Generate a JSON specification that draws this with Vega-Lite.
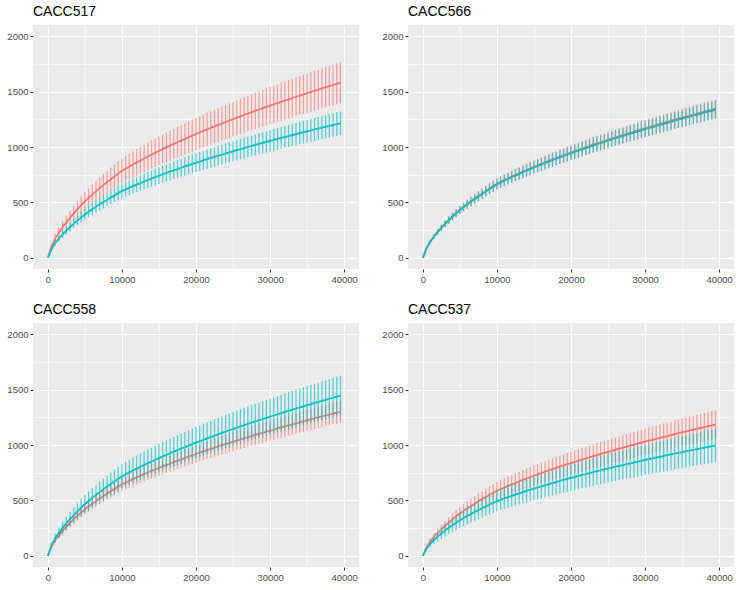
{
"$schema":"https://vega.github.io/schema/vega-lite/v6.json",
"background":"white",
"padding":{"left":6,"top":5,"right":4,"bottom":4},
"datasets":{"curves":[
{"s":"CACC517","g":"a","x":0,"y":0,"e":0},{"s":"CACC517","g":"a","x":500,"y":103,"e":27},{"s":"CACC517","g":"a","x":1000,"y":174,"e":39},{"s":"CACC517","g":"a","x":1500,"y":228,"e":48},{"s":"CACC517","g":"a","x":2000,"y":276,"e":55},{"s":"CACC517","g":"a","x":2500,"y":321,"e":61},{"s":"CACC517","g":"a","x":3000,"y":362,"e":66},{"s":"CACC517","g":"a","x":3500,"y":402,"e":71},{"s":"CACC517","g":"a","x":4000,"y":439,"e":76},{"s":"CACC517","g":"a","x":4500,"y":475,"e":80},
{"s":"CACC517","g":"a","x":5000,"y":510,"e":84},{"s":"CACC517","g":"a","x":5500,"y":541,"e":87},{"s":"CACC517","g":"a","x":6000,"y":571,"e":91},{"s":"CACC517","g":"a","x":6500,"y":600,"e":94},{"s":"CACC517","g":"a","x":7000,"y":629,"e":97},{"s":"CACC517","g":"a","x":7500,"y":656,"e":100},{"s":"CACC517","g":"a","x":8000,"y":683,"e":103},{"s":"CACC517","g":"a","x":8500,"y":709,"e":106},{"s":"CACC517","g":"a","x":9000,"y":735,"e":108},{"s":"CACC517","g":"a","x":9500,"y":760,"e":111},
{"s":"CACC517","g":"a","x":10000,"y":784,"e":113},{"s":"CACC517","g":"a","x":10500,"y":804,"e":115},{"s":"CACC517","g":"a","x":11000,"y":823,"e":117},{"s":"CACC517","g":"a","x":11500,"y":842,"e":119},{"s":"CACC517","g":"a","x":12000,"y":861,"e":121},{"s":"CACC517","g":"a","x":12500,"y":879,"e":123},{"s":"CACC517","g":"a","x":13000,"y":896,"e":124},{"s":"CACC517","g":"a","x":13500,"y":914,"e":126},{"s":"CACC517","g":"a","x":14000,"y":931,"e":128},{"s":"CACC517","g":"a","x":14500,"y":948,"e":129},
{"s":"CACC517","g":"a","x":15000,"y":964,"e":131},{"s":"CACC517","g":"a","x":15500,"y":981,"e":132},{"s":"CACC517","g":"a","x":16000,"y":997,"e":134},{"s":"CACC517","g":"a","x":16500,"y":1012,"e":135},{"s":"CACC517","g":"a","x":17000,"y":1028,"e":137},{"s":"CACC517","g":"a","x":17500,"y":1043,"e":138},{"s":"CACC517","g":"a","x":18000,"y":1058,"e":140},{"s":"CACC517","g":"a","x":18500,"y":1073,"e":141},{"s":"CACC517","g":"a","x":19000,"y":1088,"e":142},{"s":"CACC517","g":"a","x":19500,"y":1102,"e":144},
{"s":"CACC517","g":"a","x":20000,"y":1117,"e":145},{"s":"CACC517","g":"a","x":20500,"y":1131,"e":146},{"s":"CACC517","g":"a","x":21000,"y":1145,"e":148},{"s":"CACC517","g":"a","x":21500,"y":1159,"e":149},{"s":"CACC517","g":"a","x":22000,"y":1172,"e":150},{"s":"CACC517","g":"a","x":22500,"y":1186,"e":151},{"s":"CACC517","g":"a","x":23000,"y":1199,"e":153},{"s":"CACC517","g":"a","x":23500,"y":1212,"e":154},{"s":"CACC517","g":"a","x":24000,"y":1225,"e":155},{"s":"CACC517","g":"a","x":24500,"y":1238,"e":156},
{"s":"CACC517","g":"a","x":25000,"y":1251,"e":157},{"s":"CACC517","g":"a","x":25500,"y":1264,"e":158},{"s":"CACC517","g":"a","x":26000,"y":1276,"e":159},{"s":"CACC517","g":"a","x":26500,"y":1289,"e":160},{"s":"CACC517","g":"a","x":27000,"y":1301,"e":161},{"s":"CACC517","g":"a","x":27500,"y":1314,"e":163},{"s":"CACC517","g":"a","x":28000,"y":1326,"e":164},{"s":"CACC517","g":"a","x":28500,"y":1338,"e":165},{"s":"CACC517","g":"a","x":29000,"y":1350,"e":166},{"s":"CACC517","g":"a","x":29500,"y":1361,"e":167},
{"s":"CACC517","g":"a","x":30000,"y":1373,"e":168},{"s":"CACC517","g":"a","x":30500,"y":1385,"e":169},{"s":"CACC517","g":"a","x":31000,"y":1396,"e":170},{"s":"CACC517","g":"a","x":31500,"y":1408,"e":171},{"s":"CACC517","g":"a","x":32000,"y":1419,"e":172},{"s":"CACC517","g":"a","x":32500,"y":1430,"e":173},{"s":"CACC517","g":"a","x":33000,"y":1442,"e":173},{"s":"CACC517","g":"a","x":33500,"y":1453,"e":174},{"s":"CACC517","g":"a","x":34000,"y":1464,"e":175},{"s":"CACC517","g":"a","x":34500,"y":1475,"e":176},
{"s":"CACC517","g":"a","x":35000,"y":1486,"e":177},{"s":"CACC517","g":"a","x":35500,"y":1496,"e":178},{"s":"CACC517","g":"a","x":36000,"y":1507,"e":179},{"s":"CACC517","g":"a","x":36500,"y":1518,"e":180},{"s":"CACC517","g":"a","x":37000,"y":1528,"e":181},{"s":"CACC517","g":"a","x":37500,"y":1539,"e":182},{"s":"CACC517","g":"a","x":38000,"y":1549,"e":182},{"s":"CACC517","g":"a","x":38500,"y":1559,"e":183},{"s":"CACC517","g":"a","x":39000,"y":1570,"e":184},{"s":"CACC517","g":"a","x":39500,"y":1580,"e":185},
{"s":"CACC517","g":"b","x":0,"y":0,"e":0},{"s":"CACC517","g":"b","x":500,"y":79,"e":16},{"s":"CACC517","g":"b","x":1000,"y":133,"e":23},{"s":"CACC517","g":"b","x":1500,"y":175,"e":28},{"s":"CACC517","g":"b","x":2000,"y":212,"e":32},{"s":"CACC517","g":"b","x":2500,"y":246,"e":35},{"s":"CACC517","g":"b","x":3000,"y":278,"e":38},{"s":"CACC517","g":"b","x":3500,"y":309,"e":41},{"s":"CACC517","g":"b","x":4000,"y":337,"e":44},{"s":"CACC517","g":"b","x":4500,"y":365,"e":46},
{"s":"CACC517","g":"b","x":5000,"y":392,"e":49},{"s":"CACC517","g":"b","x":5500,"y":416,"e":51},{"s":"CACC517","g":"b","x":6000,"y":439,"e":52},{"s":"CACC517","g":"b","x":6500,"y":461,"e":54},{"s":"CACC517","g":"b","x":7000,"y":483,"e":56},{"s":"CACC517","g":"b","x":7500,"y":504,"e":58},{"s":"CACC517","g":"b","x":8000,"y":525,"e":59},{"s":"CACC517","g":"b","x":8500,"y":545,"e":61},{"s":"CACC517","g":"b","x":9000,"y":564,"e":63},{"s":"CACC517","g":"b","x":9500,"y":584,"e":64},
{"s":"CACC517","g":"b","x":10000,"y":603,"e":66},{"s":"CACC517","g":"b","x":10500,"y":618,"e":67},{"s":"CACC517","g":"b","x":11000,"y":632,"e":68},{"s":"CACC517","g":"b","x":11500,"y":647,"e":69},{"s":"CACC517","g":"b","x":12000,"y":661,"e":70},{"s":"CACC517","g":"b","x":12500,"y":675,"e":71},{"s":"CACC517","g":"b","x":13000,"y":689,"e":72},{"s":"CACC517","g":"b","x":13500,"y":702,"e":73},{"s":"CACC517","g":"b","x":14000,"y":715,"e":74},{"s":"CACC517","g":"b","x":14500,"y":728,"e":75},
{"s":"CACC517","g":"b","x":15000,"y":741,"e":76},{"s":"CACC517","g":"b","x":15500,"y":753,"e":77},{"s":"CACC517","g":"b","x":16000,"y":766,"e":77},{"s":"CACC517","g":"b","x":16500,"y":778,"e":78},{"s":"CACC517","g":"b","x":17000,"y":790,"e":79},{"s":"CACC517","g":"b","x":17500,"y":801,"e":80},{"s":"CACC517","g":"b","x":18000,"y":813,"e":81},{"s":"CACC517","g":"b","x":18500,"y":825,"e":82},{"s":"CACC517","g":"b","x":19000,"y":836,"e":82},{"s":"CACC517","g":"b","x":19500,"y":847,"e":83},
{"s":"CACC517","g":"b","x":20000,"y":858,"e":84},{"s":"CACC517","g":"b","x":20500,"y":869,"e":85},{"s":"CACC517","g":"b","x":21000,"y":880,"e":85},{"s":"CACC517","g":"b","x":21500,"y":890,"e":86},{"s":"CACC517","g":"b","x":22000,"y":901,"e":87},{"s":"CACC517","g":"b","x":22500,"y":911,"e":88},{"s":"CACC517","g":"b","x":23000,"y":921,"e":88},{"s":"CACC517","g":"b","x":23500,"y":932,"e":89},{"s":"CACC517","g":"b","x":24000,"y":942,"e":90},{"s":"CACC517","g":"b","x":24500,"y":952,"e":90},
{"s":"CACC517","g":"b","x":25000,"y":961,"e":91},{"s":"CACC517","g":"b","x":25500,"y":971,"e":92},{"s":"CACC517","g":"b","x":26000,"y":981,"e":92},{"s":"CACC517","g":"b","x":26500,"y":990,"e":93},{"s":"CACC517","g":"b","x":27000,"y":1000,"e":93},{"s":"CACC517","g":"b","x":27500,"y":1009,"e":94},{"s":"CACC517","g":"b","x":28000,"y":1019,"e":95},{"s":"CACC517","g":"b","x":28500,"y":1028,"e":95},{"s":"CACC517","g":"b","x":29000,"y":1037,"e":96},{"s":"CACC517","g":"b","x":29500,"y":1046,"e":96},
{"s":"CACC517","g":"b","x":30000,"y":1055,"e":97},{"s":"CACC517","g":"b","x":30500,"y":1064,"e":98},{"s":"CACC517","g":"b","x":31000,"y":1073,"e":98},{"s":"CACC517","g":"b","x":31500,"y":1082,"e":99},{"s":"CACC517","g":"b","x":32000,"y":1090,"e":99},{"s":"CACC517","g":"b","x":32500,"y":1099,"e":100},{"s":"CACC517","g":"b","x":33000,"y":1108,"e":100},{"s":"CACC517","g":"b","x":33500,"y":1116,"e":101},{"s":"CACC517","g":"b","x":34000,"y":1125,"e":101},{"s":"CACC517","g":"b","x":34500,"y":1133,"e":102},
{"s":"CACC517","g":"b","x":35000,"y":1141,"e":102},{"s":"CACC517","g":"b","x":35500,"y":1150,"e":103},{"s":"CACC517","g":"b","x":36000,"y":1158,"e":104},{"s":"CACC517","g":"b","x":36500,"y":1166,"e":104},{"s":"CACC517","g":"b","x":37000,"y":1174,"e":105},{"s":"CACC517","g":"b","x":37500,"y":1182,"e":105},{"s":"CACC517","g":"b","x":38000,"y":1190,"e":106},{"s":"CACC517","g":"b","x":38500,"y":1198,"e":106},{"s":"CACC517","g":"b","x":39000,"y":1206,"e":107},{"s":"CACC517","g":"b","x":39500,"y":1214,"e":107},
{"s":"CACC566","g":"a","x":0,"y":0,"e":0},{"s":"CACC566","g":"a","x":500,"y":87,"e":13},{"s":"CACC566","g":"a","x":1000,"y":148,"e":18},{"s":"CACC566","g":"a","x":1500,"y":194,"e":22},{"s":"CACC566","g":"a","x":2000,"y":235,"e":25},{"s":"CACC566","g":"a","x":2500,"y":273,"e":28},{"s":"CACC566","g":"a","x":3000,"y":308,"e":30},{"s":"CACC566","g":"a","x":3500,"y":342,"e":33},{"s":"CACC566","g":"a","x":4000,"y":374,"e":35},{"s":"CACC566","g":"a","x":4500,"y":405,"e":37},
{"s":"CACC566","g":"a","x":5000,"y":434,"e":39},{"s":"CACC566","g":"a","x":5500,"y":461,"e":40},{"s":"CACC566","g":"a","x":6000,"y":486,"e":42},{"s":"CACC566","g":"a","x":6500,"y":511,"e":43},{"s":"CACC566","g":"a","x":7000,"y":535,"e":45},{"s":"CACC566","g":"a","x":7500,"y":558,"e":46},{"s":"CACC566","g":"a","x":8000,"y":581,"e":47},{"s":"CACC566","g":"a","x":8500,"y":604,"e":49},{"s":"CACC566","g":"a","x":9000,"y":625,"e":50},{"s":"CACC566","g":"a","x":9500,"y":647,"e":51},
{"s":"CACC566","g":"a","x":10000,"y":668,"e":52},{"s":"CACC566","g":"a","x":10500,"y":684,"e":53},{"s":"CACC566","g":"a","x":11000,"y":701,"e":54},{"s":"CACC566","g":"a","x":11500,"y":717,"e":55},{"s":"CACC566","g":"a","x":12000,"y":733,"e":56},{"s":"CACC566","g":"a","x":12500,"y":748,"e":56},{"s":"CACC566","g":"a","x":13000,"y":763,"e":57},{"s":"CACC566","g":"a","x":13500,"y":778,"e":58},{"s":"CACC566","g":"a","x":14000,"y":792,"e":59},{"s":"CACC566","g":"a","x":14500,"y":807,"e":59},
{"s":"CACC566","g":"a","x":15000,"y":821,"e":60},{"s":"CACC566","g":"a","x":15500,"y":835,"e":61},{"s":"CACC566","g":"a","x":16000,"y":848,"e":62},{"s":"CACC566","g":"a","x":16500,"y":862,"e":62},{"s":"CACC566","g":"a","x":17000,"y":875,"e":63},{"s":"CACC566","g":"a","x":17500,"y":888,"e":64},{"s":"CACC566","g":"a","x":18000,"y":901,"e":64},{"s":"CACC566","g":"a","x":18500,"y":914,"e":65},{"s":"CACC566","g":"a","x":19000,"y":926,"e":65},{"s":"CACC566","g":"a","x":19500,"y":938,"e":66},
{"s":"CACC566","g":"a","x":20000,"y":951,"e":67},{"s":"CACC566","g":"a","x":20500,"y":963,"e":67},{"s":"CACC566","g":"a","x":21000,"y":974,"e":68},{"s":"CACC566","g":"a","x":21500,"y":986,"e":68},{"s":"CACC566","g":"a","x":22000,"y":998,"e":69},{"s":"CACC566","g":"a","x":22500,"y":1009,"e":70},{"s":"CACC566","g":"a","x":23000,"y":1021,"e":70},{"s":"CACC566","g":"a","x":23500,"y":1032,"e":71},{"s":"CACC566","g":"a","x":24000,"y":1043,"e":71},{"s":"CACC566","g":"a","x":24500,"y":1054,"e":72},
{"s":"CACC566","g":"a","x":25000,"y":1065,"e":72},{"s":"CACC566","g":"a","x":25500,"y":1076,"e":73},{"s":"CACC566","g":"a","x":26000,"y":1087,"e":73},{"s":"CACC566","g":"a","x":26500,"y":1097,"e":74},{"s":"CACC566","g":"a","x":27000,"y":1108,"e":74},{"s":"CACC566","g":"a","x":27500,"y":1118,"e":75},{"s":"CACC566","g":"a","x":28000,"y":1128,"e":75},{"s":"CACC566","g":"a","x":28500,"y":1139,"e":76},{"s":"CACC566","g":"a","x":29000,"y":1149,"e":76},{"s":"CACC566","g":"a","x":29500,"y":1159,"e":77},
{"s":"CACC566","g":"a","x":30000,"y":1169,"e":77},{"s":"CACC566","g":"a","x":30500,"y":1179,"e":78},{"s":"CACC566","g":"a","x":31000,"y":1189,"e":78},{"s":"CACC566","g":"a","x":31500,"y":1198,"e":78},{"s":"CACC566","g":"a","x":32000,"y":1208,"e":79},{"s":"CACC566","g":"a","x":32500,"y":1218,"e":79},{"s":"CACC566","g":"a","x":33000,"y":1227,"e":80},{"s":"CACC566","g":"a","x":33500,"y":1237,"e":80},{"s":"CACC566","g":"a","x":34000,"y":1246,"e":81},{"s":"CACC566","g":"a","x":34500,"y":1255,"e":81},
{"s":"CACC566","g":"a","x":35000,"y":1265,"e":81},{"s":"CACC566","g":"a","x":35500,"y":1274,"e":82},{"s":"CACC566","g":"a","x":36000,"y":1283,"e":82},{"s":"CACC566","g":"a","x":36500,"y":1292,"e":83},{"s":"CACC566","g":"a","x":37000,"y":1301,"e":83},{"s":"CACC566","g":"a","x":37500,"y":1310,"e":83},{"s":"CACC566","g":"a","x":38000,"y":1319,"e":84},{"s":"CACC566","g":"a","x":38500,"y":1328,"e":84},{"s":"CACC566","g":"a","x":39000,"y":1336,"e":85},{"s":"CACC566","g":"a","x":39500,"y":1345,"e":85},
{"s":"CACC566","g":"b","x":0,"y":0,"e":0},{"s":"CACC566","g":"b","x":500,"y":87,"e":12},{"s":"CACC566","g":"b","x":1000,"y":147,"e":17},{"s":"CACC566","g":"b","x":1500,"y":192,"e":21},{"s":"CACC566","g":"b","x":2000,"y":233,"e":24},{"s":"CACC566","g":"b","x":2500,"y":271,"e":26},{"s":"CACC566","g":"b","x":3000,"y":306,"e":29},{"s":"CACC566","g":"b","x":3500,"y":339,"e":31},{"s":"CACC566","g":"b","x":4000,"y":371,"e":33},{"s":"CACC566","g":"b","x":4500,"y":402,"e":35},
{"s":"CACC566","g":"b","x":5000,"y":431,"e":36},{"s":"CACC566","g":"b","x":5500,"y":457,"e":38},{"s":"CACC566","g":"b","x":6000,"y":483,"e":39},{"s":"CACC566","g":"b","x":6500,"y":507,"e":41},{"s":"CACC566","g":"b","x":7000,"y":531,"e":42},{"s":"CACC566","g":"b","x":7500,"y":554,"e":43},{"s":"CACC566","g":"b","x":8000,"y":577,"e":44},{"s":"CACC566","g":"b","x":8500,"y":599,"e":46},{"s":"CACC566","g":"b","x":9000,"y":621,"e":47},{"s":"CACC566","g":"b","x":9500,"y":642,"e":48},
{"s":"CACC566","g":"b","x":10000,"y":663,"e":49},{"s":"CACC566","g":"b","x":10500,"y":679,"e":50},{"s":"CACC566","g":"b","x":11000,"y":696,"e":51},{"s":"CACC566","g":"b","x":11500,"y":712,"e":51},{"s":"CACC566","g":"b","x":12000,"y":727,"e":52},{"s":"CACC566","g":"b","x":12500,"y":742,"e":53},{"s":"CACC566","g":"b","x":13000,"y":757,"e":54},{"s":"CACC566","g":"b","x":13500,"y":772,"e":55},{"s":"CACC566","g":"b","x":14000,"y":787,"e":55},{"s":"CACC566","g":"b","x":14500,"y":801,"e":56},
{"s":"CACC566","g":"b","x":15000,"y":815,"e":57},{"s":"CACC566","g":"b","x":15500,"y":828,"e":57},{"s":"CACC566","g":"b","x":16000,"y":842,"e":58},{"s":"CACC566","g":"b","x":16500,"y":855,"e":59},{"s":"CACC566","g":"b","x":17000,"y":868,"e":59},{"s":"CACC566","g":"b","x":17500,"y":881,"e":60},{"s":"CACC566","g":"b","x":18000,"y":894,"e":60},{"s":"CACC566","g":"b","x":18500,"y":907,"e":61},{"s":"CACC566","g":"b","x":19000,"y":919,"e":62},{"s":"CACC566","g":"b","x":19500,"y":931,"e":62},
{"s":"CACC566","g":"b","x":20000,"y":943,"e":63},{"s":"CACC566","g":"b","x":20500,"y":955,"e":63},{"s":"CACC566","g":"b","x":21000,"y":967,"e":64},{"s":"CACC566","g":"b","x":21500,"y":979,"e":64},{"s":"CACC566","g":"b","x":22000,"y":990,"e":65},{"s":"CACC566","g":"b","x":22500,"y":1002,"e":65},{"s":"CACC566","g":"b","x":23000,"y":1013,"e":66},{"s":"CACC566","g":"b","x":23500,"y":1024,"e":66},{"s":"CACC566","g":"b","x":24000,"y":1035,"e":67},{"s":"CACC566","g":"b","x":24500,"y":1046,"e":67},
{"s":"CACC566","g":"b","x":25000,"y":1057,"e":68},{"s":"CACC566","g":"b","x":25500,"y":1068,"e":68},{"s":"CACC566","g":"b","x":26000,"y":1079,"e":69},{"s":"CACC566","g":"b","x":26500,"y":1089,"e":69},{"s":"CACC566","g":"b","x":27000,"y":1099,"e":70},{"s":"CACC566","g":"b","x":27500,"y":1110,"e":70},{"s":"CACC566","g":"b","x":28000,"y":1120,"e":71},{"s":"CACC566","g":"b","x":28500,"y":1130,"e":71},{"s":"CACC566","g":"b","x":29000,"y":1140,"e":72},{"s":"CACC566","g":"b","x":29500,"y":1150,"e":72},
{"s":"CACC566","g":"b","x":30000,"y":1160,"e":73},{"s":"CACC566","g":"b","x":30500,"y":1170,"e":73},{"s":"CACC566","g":"b","x":31000,"y":1180,"e":73},{"s":"CACC566","g":"b","x":31500,"y":1189,"e":74},{"s":"CACC566","g":"b","x":32000,"y":1199,"e":74},{"s":"CACC566","g":"b","x":32500,"y":1209,"e":75},{"s":"CACC566","g":"b","x":33000,"y":1218,"e":75},{"s":"CACC566","g":"b","x":33500,"y":1227,"e":75},{"s":"CACC566","g":"b","x":34000,"y":1237,"e":76},{"s":"CACC566","g":"b","x":34500,"y":1246,"e":76},
{"s":"CACC566","g":"b","x":35000,"y":1255,"e":77},{"s":"CACC566","g":"b","x":35500,"y":1264,"e":77},{"s":"CACC566","g":"b","x":36000,"y":1273,"e":77},{"s":"CACC566","g":"b","x":36500,"y":1282,"e":78},{"s":"CACC566","g":"b","x":37000,"y":1291,"e":78},{"s":"CACC566","g":"b","x":37500,"y":1300,"e":79},{"s":"CACC566","g":"b","x":38000,"y":1309,"e":79},{"s":"CACC566","g":"b","x":38500,"y":1318,"e":79},{"s":"CACC566","g":"b","x":39000,"y":1326,"e":80},{"s":"CACC566","g":"b","x":39500,"y":1335,"e":80},
{"s":"CACC558","g":"a","x":0,"y":0,"e":0},{"s":"CACC558","g":"a","x":500,"y":85,"e":15},{"s":"CACC558","g":"a","x":1000,"y":143,"e":21},{"s":"CACC558","g":"a","x":1500,"y":187,"e":26},{"s":"CACC558","g":"a","x":2000,"y":227,"e":29},{"s":"CACC558","g":"a","x":2500,"y":264,"e":33},{"s":"CACC558","g":"a","x":3000,"y":298,"e":36},{"s":"CACC558","g":"a","x":3500,"y":331,"e":38},{"s":"CACC558","g":"a","x":4000,"y":361,"e":41},{"s":"CACC558","g":"a","x":4500,"y":391,"e":43},
{"s":"CACC558","g":"a","x":5000,"y":420,"e":45},{"s":"CACC558","g":"a","x":5500,"y":445,"e":47},{"s":"CACC558","g":"a","x":6000,"y":470,"e":49},{"s":"CACC558","g":"a","x":6500,"y":494,"e":51},{"s":"CACC558","g":"a","x":7000,"y":517,"e":52},{"s":"CACC558","g":"a","x":7500,"y":540,"e":54},{"s":"CACC558","g":"a","x":8000,"y":562,"e":56},{"s":"CACC558","g":"a","x":8500,"y":583,"e":57},{"s":"CACC558","g":"a","x":9000,"y":604,"e":59},{"s":"CACC558","g":"a","x":9500,"y":625,"e":60},
{"s":"CACC558","g":"a","x":10000,"y":645,"e":61},{"s":"CACC558","g":"a","x":10500,"y":661,"e":62},{"s":"CACC558","g":"a","x":11000,"y":677,"e":63},{"s":"CACC558","g":"a","x":11500,"y":693,"e":64},{"s":"CACC558","g":"a","x":12000,"y":708,"e":65},{"s":"CACC558","g":"a","x":12500,"y":723,"e":66},{"s":"CACC558","g":"a","x":13000,"y":738,"e":67},{"s":"CACC558","g":"a","x":13500,"y":752,"e":68},{"s":"CACC558","g":"a","x":14000,"y":766,"e":69},{"s":"CACC558","g":"a","x":14500,"y":780,"e":70},
{"s":"CACC558","g":"a","x":15000,"y":793,"e":71},{"s":"CACC558","g":"a","x":15500,"y":807,"e":72},{"s":"CACC558","g":"a","x":16000,"y":820,"e":72},{"s":"CACC558","g":"a","x":16500,"y":833,"e":73},{"s":"CACC558","g":"a","x":17000,"y":846,"e":74},{"s":"CACC558","g":"a","x":17500,"y":858,"e":75},{"s":"CACC558","g":"a","x":18000,"y":871,"e":76},{"s":"CACC558","g":"a","x":18500,"y":883,"e":76},{"s":"CACC558","g":"a","x":19000,"y":895,"e":77},{"s":"CACC558","g":"a","x":19500,"y":907,"e":78},
{"s":"CACC558","g":"a","x":20000,"y":919,"e":78},{"s":"CACC558","g":"a","x":20500,"y":930,"e":79},{"s":"CACC558","g":"a","x":21000,"y":942,"e":80},{"s":"CACC558","g":"a","x":21500,"y":953,"e":80},{"s":"CACC558","g":"a","x":22000,"y":964,"e":81},{"s":"CACC558","g":"a","x":22500,"y":976,"e":82},{"s":"CACC558","g":"a","x":23000,"y":987,"e":82},{"s":"CACC558","g":"a","x":23500,"y":998,"e":83},{"s":"CACC558","g":"a","x":24000,"y":1008,"e":84},{"s":"CACC558","g":"a","x":24500,"y":1019,"e":84},
{"s":"CACC558","g":"a","x":25000,"y":1029,"e":85},{"s":"CACC558","g":"a","x":25500,"y":1040,"e":86},{"s":"CACC558","g":"a","x":26000,"y":1050,"e":86},{"s":"CACC558","g":"a","x":26500,"y":1061,"e":87},{"s":"CACC558","g":"a","x":27000,"y":1071,"e":87},{"s":"CACC558","g":"a","x":27500,"y":1081,"e":88},{"s":"CACC558","g":"a","x":28000,"y":1091,"e":88},{"s":"CACC558","g":"a","x":28500,"y":1101,"e":89},{"s":"CACC558","g":"a","x":29000,"y":1110,"e":90},{"s":"CACC558","g":"a","x":29500,"y":1120,"e":90},
{"s":"CACC558","g":"a","x":30000,"y":1130,"e":91},{"s":"CACC558","g":"a","x":30500,"y":1139,"e":91},{"s":"CACC558","g":"a","x":31000,"y":1149,"e":92},{"s":"CACC558","g":"a","x":31500,"y":1158,"e":92},{"s":"CACC558","g":"a","x":32000,"y":1168,"e":93},{"s":"CACC558","g":"a","x":32500,"y":1177,"e":93},{"s":"CACC558","g":"a","x":33000,"y":1186,"e":94},{"s":"CACC558","g":"a","x":33500,"y":1195,"e":94},{"s":"CACC558","g":"a","x":34000,"y":1204,"e":95},{"s":"CACC558","g":"a","x":34500,"y":1213,"e":95},
{"s":"CACC558","g":"a","x":35000,"y":1222,"e":96},{"s":"CACC558","g":"a","x":35500,"y":1231,"e":96},{"s":"CACC558","g":"a","x":36000,"y":1240,"e":97},{"s":"CACC558","g":"a","x":36500,"y":1249,"e":97},{"s":"CACC558","g":"a","x":37000,"y":1257,"e":98},{"s":"CACC558","g":"a","x":37500,"y":1266,"e":98},{"s":"CACC558","g":"a","x":38000,"y":1275,"e":99},{"s":"CACC558","g":"a","x":38500,"y":1283,"e":99},{"s":"CACC558","g":"a","x":39000,"y":1292,"e":100},{"s":"CACC558","g":"a","x":39500,"y":1300,"e":100},
{"s":"CACC558","g":"b","x":0,"y":0,"e":0},{"s":"CACC558","g":"b","x":500,"y":94,"e":27},{"s":"CACC558","g":"b","x":1000,"y":159,"e":38},{"s":"CACC558","g":"b","x":1500,"y":208,"e":46},{"s":"CACC558","g":"b","x":2000,"y":253,"e":53},{"s":"CACC558","g":"b","x":2500,"y":293,"e":59},{"s":"CACC558","g":"b","x":3000,"y":331,"e":64},{"s":"CACC558","g":"b","x":3500,"y":367,"e":69},{"s":"CACC558","g":"b","x":4000,"y":402,"e":73},{"s":"CACC558","g":"b","x":4500,"y":435,"e":78},
{"s":"CACC558","g":"b","x":5000,"y":467,"e":82},{"s":"CACC558","g":"b","x":5500,"y":495,"e":85},{"s":"CACC558","g":"b","x":6000,"y":523,"e":88},{"s":"CACC558","g":"b","x":6500,"y":549,"e":91},{"s":"CACC558","g":"b","x":7000,"y":575,"e":94},{"s":"CACC558","g":"b","x":7500,"y":600,"e":97},{"s":"CACC558","g":"b","x":8000,"y":625,"e":100},{"s":"CACC558","g":"b","x":8500,"y":648,"e":103},{"s":"CACC558","g":"b","x":9000,"y":672,"e":105},{"s":"CACC558","g":"b","x":9500,"y":695,"e":108},
{"s":"CACC558","g":"b","x":10000,"y":717,"e":110},{"s":"CACC558","g":"b","x":10500,"y":735,"e":112},{"s":"CACC558","g":"b","x":11000,"y":753,"e":114},{"s":"CACC558","g":"b","x":11500,"y":770,"e":116},{"s":"CACC558","g":"b","x":12000,"y":787,"e":118},{"s":"CACC558","g":"b","x":12500,"y":804,"e":119},{"s":"CACC558","g":"b","x":13000,"y":820,"e":121},{"s":"CACC558","g":"b","x":13500,"y":836,"e":123},{"s":"CACC558","g":"b","x":14000,"y":851,"e":124},{"s":"CACC558","g":"b","x":14500,"y":867,"e":126},
{"s":"CACC558","g":"b","x":15000,"y":882,"e":127},{"s":"CACC558","g":"b","x":15500,"y":897,"e":129},{"s":"CACC558","g":"b","x":16000,"y":911,"e":130},{"s":"CACC558","g":"b","x":16500,"y":926,"e":132},{"s":"CACC558","g":"b","x":17000,"y":940,"e":133},{"s":"CACC558","g":"b","x":17500,"y":954,"e":135},{"s":"CACC558","g":"b","x":18000,"y":968,"e":136},{"s":"CACC558","g":"b","x":18500,"y":981,"e":137},{"s":"CACC558","g":"b","x":19000,"y":995,"e":139},{"s":"CACC558","g":"b","x":19500,"y":1008,"e":140},
{"s":"CACC558","g":"b","x":20000,"y":1021,"e":141},{"s":"CACC558","g":"b","x":20500,"y":1034,"e":142},{"s":"CACC558","g":"b","x":21000,"y":1047,"e":144},{"s":"CACC558","g":"b","x":21500,"y":1060,"e":145},{"s":"CACC558","g":"b","x":22000,"y":1072,"e":146},{"s":"CACC558","g":"b","x":22500,"y":1084,"e":147},{"s":"CACC558","g":"b","x":23000,"y":1097,"e":148},{"s":"CACC558","g":"b","x":23500,"y":1109,"e":150},{"s":"CACC558","g":"b","x":24000,"y":1121,"e":151},{"s":"CACC558","g":"b","x":24500,"y":1133,"e":152},
{"s":"CACC558","g":"b","x":25000,"y":1144,"e":153},{"s":"CACC558","g":"b","x":25500,"y":1156,"e":154},{"s":"CACC558","g":"b","x":26000,"y":1167,"e":155},{"s":"CACC558","g":"b","x":26500,"y":1179,"e":156},{"s":"CACC558","g":"b","x":27000,"y":1190,"e":157},{"s":"CACC558","g":"b","x":27500,"y":1201,"e":158},{"s":"CACC558","g":"b","x":28000,"y":1212,"e":159},{"s":"CACC558","g":"b","x":28500,"y":1223,"e":160},{"s":"CACC558","g":"b","x":29000,"y":1234,"e":161},{"s":"CACC558","g":"b","x":29500,"y":1245,"e":162},
{"s":"CACC558","g":"b","x":30000,"y":1256,"e":163},{"s":"CACC558","g":"b","x":30500,"y":1266,"e":164},{"s":"CACC558","g":"b","x":31000,"y":1277,"e":165},{"s":"CACC558","g":"b","x":31500,"y":1287,"e":166},{"s":"CACC558","g":"b","x":32000,"y":1298,"e":167},{"s":"CACC558","g":"b","x":32500,"y":1308,"e":168},{"s":"CACC558","g":"b","x":33000,"y":1318,"e":169},{"s":"CACC558","g":"b","x":33500,"y":1329,"e":170},{"s":"CACC558","g":"b","x":34000,"y":1339,"e":171},{"s":"CACC558","g":"b","x":34500,"y":1349,"e":172},
{"s":"CACC558","g":"b","x":35000,"y":1359,"e":172},{"s":"CACC558","g":"b","x":35500,"y":1368,"e":173},{"s":"CACC558","g":"b","x":36000,"y":1378,"e":174},{"s":"CACC558","g":"b","x":36500,"y":1388,"e":175},{"s":"CACC558","g":"b","x":37000,"y":1398,"e":176},{"s":"CACC558","g":"b","x":37500,"y":1407,"e":177},{"s":"CACC558","g":"b","x":38000,"y":1417,"e":178},{"s":"CACC558","g":"b","x":38500,"y":1426,"e":178},{"s":"CACC558","g":"b","x":39000,"y":1436,"e":179},{"s":"CACC558","g":"b","x":39500,"y":1445,"e":180},
{"s":"CACC537","g":"a","x":0,"y":0,"e":0},{"s":"CACC537","g":"a","x":500,"y":77,"e":19},{"s":"CACC537","g":"a","x":1000,"y":130,"e":28},{"s":"CACC537","g":"a","x":1500,"y":171,"e":34},{"s":"CACC537","g":"a","x":2000,"y":207,"e":38},{"s":"CACC537","g":"a","x":2500,"y":240,"e":43},{"s":"CACC537","g":"a","x":3000,"y":272,"e":46},{"s":"CACC537","g":"a","x":3500,"y":301,"e":50},{"s":"CACC537","g":"a","x":4000,"y":329,"e":53},{"s":"CACC537","g":"a","x":4500,"y":357,"e":56},
{"s":"CACC537","g":"a","x":5000,"y":383,"e":59},{"s":"CACC537","g":"a","x":5500,"y":406,"e":61},{"s":"CACC537","g":"a","x":6000,"y":428,"e":64},{"s":"CACC537","g":"a","x":6500,"y":450,"e":66},{"s":"CACC537","g":"a","x":7000,"y":471,"e":68},{"s":"CACC537","g":"a","x":7500,"y":492,"e":70},{"s":"CACC537","g":"a","x":8000,"y":512,"e":72},{"s":"CACC537","g":"a","x":8500,"y":532,"e":74},{"s":"CACC537","g":"a","x":9000,"y":551,"e":76},{"s":"CACC537","g":"a","x":9500,"y":570,"e":78},
{"s":"CACC537","g":"a","x":10000,"y":588,"e":80},{"s":"CACC537","g":"a","x":10500,"y":603,"e":81},{"s":"CACC537","g":"a","x":11000,"y":617,"e":82},{"s":"CACC537","g":"a","x":11500,"y":632,"e":84},{"s":"CACC537","g":"a","x":12000,"y":645,"e":85},{"s":"CACC537","g":"a","x":12500,"y":659,"e":86},{"s":"CACC537","g":"a","x":13000,"y":672,"e":87},{"s":"CACC537","g":"a","x":13500,"y":685,"e":89},{"s":"CACC537","g":"a","x":14000,"y":698,"e":90},{"s":"CACC537","g":"a","x":14500,"y":711,"e":91},
{"s":"CACC537","g":"a","x":15000,"y":723,"e":92},{"s":"CACC537","g":"a","x":15500,"y":735,"e":93},{"s":"CACC537","g":"a","x":16000,"y":747,"e":94},{"s":"CACC537","g":"a","x":16500,"y":759,"e":95},{"s":"CACC537","g":"a","x":17000,"y":771,"e":96},{"s":"CACC537","g":"a","x":17500,"y":782,"e":97},{"s":"CACC537","g":"a","x":18000,"y":794,"e":98},{"s":"CACC537","g":"a","x":18500,"y":805,"e":99},{"s":"CACC537","g":"a","x":19000,"y":816,"e":100},{"s":"CACC537","g":"a","x":19500,"y":827,"e":101},
{"s":"CACC537","g":"a","x":20000,"y":837,"e":102},{"s":"CACC537","g":"a","x":20500,"y":848,"e":103},{"s":"CACC537","g":"a","x":21000,"y":859,"e":104},{"s":"CACC537","g":"a","x":21500,"y":869,"e":105},{"s":"CACC537","g":"a","x":22000,"y":879,"e":105},{"s":"CACC537","g":"a","x":22500,"y":889,"e":106},{"s":"CACC537","g":"a","x":23000,"y":899,"e":107},{"s":"CACC537","g":"a","x":23500,"y":909,"e":108},{"s":"CACC537","g":"a","x":24000,"y":919,"e":109},{"s":"CACC537","g":"a","x":24500,"y":929,"e":110},
{"s":"CACC537","g":"a","x":25000,"y":938,"e":110},{"s":"CACC537","g":"a","x":25500,"y":948,"e":111},{"s":"CACC537","g":"a","x":26000,"y":957,"e":112},{"s":"CACC537","g":"a","x":26500,"y":967,"e":113},{"s":"CACC537","g":"a","x":27000,"y":976,"e":113},{"s":"CACC537","g":"a","x":27500,"y":985,"e":114},{"s":"CACC537","g":"a","x":28000,"y":994,"e":115},{"s":"CACC537","g":"a","x":28500,"y":1003,"e":116},{"s":"CACC537","g":"a","x":29000,"y":1012,"e":116},{"s":"CACC537","g":"a","x":29500,"y":1021,"e":117},
{"s":"CACC537","g":"a","x":30000,"y":1030,"e":118},{"s":"CACC537","g":"a","x":30500,"y":1039,"e":119},{"s":"CACC537","g":"a","x":31000,"y":1047,"e":119},{"s":"CACC537","g":"a","x":31500,"y":1056,"e":120},{"s":"CACC537","g":"a","x":32000,"y":1064,"e":121},{"s":"CACC537","g":"a","x":32500,"y":1073,"e":121},{"s":"CACC537","g":"a","x":33000,"y":1081,"e":122},{"s":"CACC537","g":"a","x":33500,"y":1090,"e":123},{"s":"CACC537","g":"a","x":34000,"y":1098,"e":123},{"s":"CACC537","g":"a","x":34500,"y":1106,"e":124},
{"s":"CACC537","g":"a","x":35000,"y":1114,"e":125},{"s":"CACC537","g":"a","x":35500,"y":1122,"e":125},{"s":"CACC537","g":"a","x":36000,"y":1130,"e":126},{"s":"CACC537","g":"a","x":36500,"y":1138,"e":126},{"s":"CACC537","g":"a","x":37000,"y":1146,"e":127},{"s":"CACC537","g":"a","x":37500,"y":1154,"e":128},{"s":"CACC537","g":"a","x":38000,"y":1162,"e":128},{"s":"CACC537","g":"a","x":38500,"y":1170,"e":129},{"s":"CACC537","g":"a","x":39000,"y":1177,"e":129},{"s":"CACC537","g":"a","x":39500,"y":1185,"e":130},
{"s":"CACC537","g":"b","x":0,"y":0,"e":0},{"s":"CACC537","g":"b","x":500,"y":65,"e":22},{"s":"CACC537","g":"b","x":1000,"y":109,"e":32},{"s":"CACC537","g":"b","x":1500,"y":143,"e":39},{"s":"CACC537","g":"b","x":2000,"y":174,"e":44},{"s":"CACC537","g":"b","x":2500,"y":202,"e":49},{"s":"CACC537","g":"b","x":3000,"y":228,"e":54},{"s":"CACC537","g":"b","x":3500,"y":253,"e":58},{"s":"CACC537","g":"b","x":4000,"y":277,"e":61},{"s":"CACC537","g":"b","x":4500,"y":299,"e":65},
{"s":"CACC537","g":"b","x":5000,"y":321,"e":68},{"s":"CACC537","g":"b","x":5500,"y":341,"e":71},{"s":"CACC537","g":"b","x":6000,"y":360,"e":74},{"s":"CACC537","g":"b","x":6500,"y":378,"e":76},{"s":"CACC537","g":"b","x":7000,"y":396,"e":79},{"s":"CACC537","g":"b","x":7500,"y":413,"e":81},{"s":"CACC537","g":"b","x":8000,"y":430,"e":83},{"s":"CACC537","g":"b","x":8500,"y":446,"e":86},{"s":"CACC537","g":"b","x":9000,"y":463,"e":88},{"s":"CACC537","g":"b","x":9500,"y":478,"e":90},
{"s":"CACC537","g":"b","x":10000,"y":494,"e":92},{"s":"CACC537","g":"b","x":10500,"y":506,"e":93},{"s":"CACC537","g":"b","x":11000,"y":518,"e":95},{"s":"CACC537","g":"b","x":11500,"y":530,"e":97},{"s":"CACC537","g":"b","x":12000,"y":542,"e":98},{"s":"CACC537","g":"b","x":12500,"y":553,"e":99},{"s":"CACC537","g":"b","x":13000,"y":564,"e":101},{"s":"CACC537","g":"b","x":13500,"y":576,"e":102},{"s":"CACC537","g":"b","x":14000,"y":586,"e":104},{"s":"CACC537","g":"b","x":14500,"y":597,"e":105},
{"s":"CACC537","g":"b","x":15000,"y":607,"e":106},{"s":"CACC537","g":"b","x":15500,"y":617,"e":107},{"s":"CACC537","g":"b","x":16000,"y":628,"e":109},{"s":"CACC537","g":"b","x":16500,"y":637,"e":110},{"s":"CACC537","g":"b","x":17000,"y":647,"e":111},{"s":"CACC537","g":"b","x":17500,"y":657,"e":112},{"s":"CACC537","g":"b","x":18000,"y":666,"e":113},{"s":"CACC537","g":"b","x":18500,"y":676,"e":114},{"s":"CACC537","g":"b","x":19000,"y":685,"e":116},{"s":"CACC537","g":"b","x":19500,"y":694,"e":117},
{"s":"CACC537","g":"b","x":20000,"y":703,"e":118},{"s":"CACC537","g":"b","x":20500,"y":712,"e":119},{"s":"CACC537","g":"b","x":21000,"y":721,"e":120},{"s":"CACC537","g":"b","x":21500,"y":730,"e":121},{"s":"CACC537","g":"b","x":22000,"y":738,"e":122},{"s":"CACC537","g":"b","x":22500,"y":747,"e":123},{"s":"CACC537","g":"b","x":23000,"y":755,"e":124},{"s":"CACC537","g":"b","x":23500,"y":764,"e":125},{"s":"CACC537","g":"b","x":24000,"y":772,"e":126},{"s":"CACC537","g":"b","x":24500,"y":780,"e":126},
{"s":"CACC537","g":"b","x":25000,"y":788,"e":127},{"s":"CACC537","g":"b","x":25500,"y":796,"e":128},{"s":"CACC537","g":"b","x":26000,"y":804,"e":129},{"s":"CACC537","g":"b","x":26500,"y":812,"e":130},{"s":"CACC537","g":"b","x":27000,"y":819,"e":131},{"s":"CACC537","g":"b","x":27500,"y":827,"e":132},{"s":"CACC537","g":"b","x":28000,"y":835,"e":133},{"s":"CACC537","g":"b","x":28500,"y":842,"e":134},{"s":"CACC537","g":"b","x":29000,"y":850,"e":134},{"s":"CACC537","g":"b","x":29500,"y":857,"e":135},
{"s":"CACC537","g":"b","x":30000,"y":865,"e":136},{"s":"CACC537","g":"b","x":30500,"y":872,"e":137},{"s":"CACC537","g":"b","x":31000,"y":879,"e":138},{"s":"CACC537","g":"b","x":31500,"y":887,"e":138},{"s":"CACC537","g":"b","x":32000,"y":894,"e":139},{"s":"CACC537","g":"b","x":32500,"y":901,"e":140},{"s":"CACC537","g":"b","x":33000,"y":908,"e":141},{"s":"CACC537","g":"b","x":33500,"y":915,"e":141},{"s":"CACC537","g":"b","x":34000,"y":922,"e":142},{"s":"CACC537","g":"b","x":34500,"y":929,"e":143},
{"s":"CACC537","g":"b","x":35000,"y":935,"e":144},{"s":"CACC537","g":"b","x":35500,"y":942,"e":144},{"s":"CACC537","g":"b","x":36000,"y":949,"e":145},{"s":"CACC537","g":"b","x":36500,"y":956,"e":146},{"s":"CACC537","g":"b","x":37000,"y":962,"e":147},{"s":"CACC537","g":"b","x":37500,"y":969,"e":147},{"s":"CACC537","g":"b","x":38000,"y":976,"e":148},{"s":"CACC537","g":"b","x":38500,"y":982,"e":149},{"s":"CACC537","g":"b","x":39000,"y":989,"e":149},{"s":"CACC537","g":"b","x":39500,"y":995,"e":150}
]},
"data":{"name":"curves"},
"facet":{"field":"s","type":"nominal","sort":["CACC517","CACC566","CACC558","CACC537"],
  "header":{"title":null,"labelAnchor":"start","labelAlign":"left","labelFontSize":14,"labelColor":"black","labelPadding":6}},
"columns":2,
"spacing":{"row":19,"column":22},
"resolve":{"axis":{"x":"independent","y":"independent"}},
"spec":{
  "width":326,
  "height":244,
  "encoding":{
    "x":{"field":"x","type":"quantitative","scale":{"domain":[-2000,42000],"nice":false,"zero":false},
      "axis":{"title":null,"values":[0,5000,10000,15000,20000,25000,30000,35000,40000],"format":"d",
        "labelExpr":"datum.value % 10000 === 0 ? datum.label : ''",
        "tickColor":{"condition":{"test":"datum.value % 10000 === 0","value":"#333333"},"value":"transparent"},
        "gridWidth":{"condition":{"test":"datum.value % 10000 === 0","value":1.1},"value":0.55}}},
    "y":{"field":"y","type":"quantitative","scale":{"domain":[-100,2100],"nice":false,"zero":false},
      "axis":{"title":null,"values":[0,250,500,750,1000,1250,1500,1750,2000],"format":"d",
        "labelExpr":"datum.value % 500 === 0 ? datum.label : ''",
        "tickColor":{"condition":{"test":"datum.value % 500 === 0","value":"#333333"},"value":"transparent"},
        "gridWidth":{"condition":{"test":"datum.value % 500 === 0","value":1.1},"value":0.55}}},
    "color":{"field":"g","type":"nominal","scale":{"domain":["a","b"],"range":["#F8766D","#00BFC4"]},"legend":null}
  },
  "layer":[
    {"mark":{"type":"line","strokeWidth":1.8}},
    {"mark":{"type":"errorbar","ticks":false,"thickness":1.3,"opacity":0.65},"encoding":{"yError":{"field":"e"}}}
  ]
},
"config":{
  "font":"Liberation Sans",
  "view":{"fill":"#EBEBEB","stroke":null},
  "axis":{"domain":false,"gridColor":"white","tickSize":3,"tickWidth":1,"labelColor":"#4D4D4D","labelFontSize":9.5,"labelPadding":2,"labelFlush":false}
}
}
